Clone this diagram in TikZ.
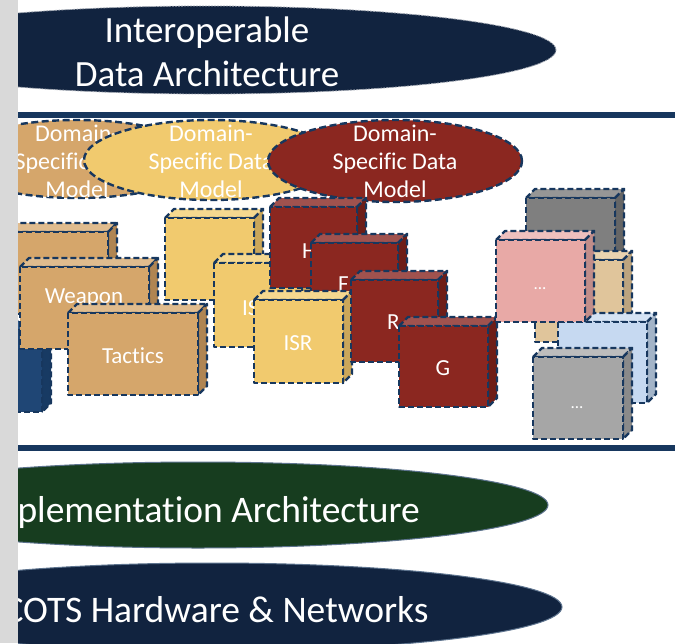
\documentclass[tikz,border=0pt]{standalone}
\usepackage{fontspec}
\setmainfont{Carlito}[Ligatures=NoCommon]
\definecolor{navyell}{HTML}{11233F}
\definecolor{bandcol}{HTML}{17375E}
\definecolor{bordcol}{HTML}{17375E}
\definecolor{greenell}{HTML}{173D1F}
\definecolor{stripgray}{HTML}{D9D9D9}
\definecolor{tanF}{HTML}{D5A66B}\definecolor{tanT}{HTML}{E0BC8E}\definecolor{tanS}{HTML}{B08552}
\definecolor{yelF}{HTML}{F1CA6E}\definecolor{yelT}{HTML}{F5D88F}\definecolor{yelS}{HTML}{CBA75A}
\definecolor{redF}{HTML}{8B2720}\definecolor{redT}{HTML}{A0524E}\definecolor{redS}{HTML}{6E1D17}
\definecolor{bluF}{HTML}{1F4675}\definecolor{bluT}{HTML}{2E5A8C}\definecolor{bluS}{HTML}{173A63}
\definecolor{dgF}{HTML}{7F7F7F}\definecolor{dgT}{HTML}{969696}\definecolor{dgS}{HTML}{666666}
\definecolor{pkF}{HTML}{E8A9A6}\definecolor{pkT}{HTML}{EFC0BE}\definecolor{pkS}{HTML}{C18D8A}
\definecolor{ltF}{HTML}{E0C59B}\definecolor{ltT}{HTML}{E9D3B0}\definecolor{ltS}{HTML}{BCA47F}
\definecolor{lbF}{HTML}{C6D9F1}\definecolor{lbT}{HTML}{D5E3F4}\definecolor{lbS}{HTML}{A3B4C8}
\definecolor{gyF}{HTML}{A6A6A6}\definecolor{gyT}{HTML}{BDBDBD}\definecolor{gyS}{HTML}{8A8A8A}
\newcommand\drawcube[7]{%
  \filldraw[dashbd, fill=#6] (#1,#2) -- (#1+9,#2-9) -- (#3+9,#2-9) -- (#3,#2) -- cycle;
  \filldraw[dashbd, fill=#7] (#3,#2) -- (#3+9,#2-9) -- (#3+9,#4-9) -- (#3,#4) -- cycle;
  \filldraw[dashbd, fill=#5] (#1,#2) rectangle (#3,#4);
}
\begin{document}
\begin{tikzpicture}[x=1pt,y=-1pt,
  dashbd/.style={draw=bordcol, line width=2.4pt, dash pattern=on 6pt off 3pt, line join=round},
  ellbd/.style={draw=bordcol, line width=2.4pt, dash pattern=on 7pt off 3.5pt},
  bigtxt/.style={text=white, font=\fontsize{37}{44}\selectfont, inner sep=0pt, anchor=base},
  lowtxt/.style={text=white, font=\fontsize{37.5}{44}\selectfont, inner sep=0pt, anchor=base},
  elltxt/.style={text=white, font=\fontsize{24}{28}\selectfont, inner sep=0pt, anchor=base},
  lbl/.style={text=white, font=\fontsize{23}{28}\selectfont, inner sep=0pt, anchor=base},
  dots/.style={text=white, font=\fontsize{17}{20}\selectfont, inner sep=0pt, anchor=base}]
\useasboundingbox (0,0) rectangle (675,643);
\fill[white] (0,0) rectangle (675,643);
\fill[stripgray] (0,0) rectangle (18,643);
\begin{scope}
\clip (18,0) rectangle (675,643);
% top ellipse
\filldraw[fill=navyell, draw=white!60!navyell, line width=0.8pt, dash pattern=on 2pt off 1pt] (207,50) ellipse [x radius=349pt, y radius=44pt];
\node[bigtxt] (t1) at (207,42) {Interoperable};
\node[bigtxt] (t2) at (207,86) {Data Architecture};
% bands
\fill[bandcol] (18,112) rectangle (675,118);
\fill[bandcol] (18,445) rectangle (675,451);
% domain ellipses
\filldraw[ellbd, fill=tanF] (77,159) ellipse [x radius=127pt, y radius=39pt];
\node[elltxt] (a1) at (77,141) {Domain-};
\node[elltxt] (a2) at (77,169) {Specific Data};
\node[elltxt] (a3) at (77,197) {Model};
\filldraw[ellbd, fill=yelF] (211,160) ellipse [x radius=127pt, y radius=40pt];
\node[elltxt] (b1) at (211,141) {Domain-};
\node[elltxt] (b2) at (211,169) {Specific Data};
\node[elltxt] (b3) at (211,197) {Model};
\filldraw[ellbd, fill=redF] (395,161) ellipse [x radius=127pt, y radius=41pt];
\node[elltxt] (c1) at (395,141) {Domain-};
\node[elltxt] (c2) at (395,169) {Specific Data};
\node[elltxt] (c3) at (395,197) {Model};
% tan group
\drawcube{-21}{232}{108}{314}{tanF}{tanT}{tanS}
\drawcube{-47}{330}{42}{412}{bluF}{bluT}{bluS}
\drawcube{20}{267}{149}{349}{tanF}{tanT}{tanS}
\node[lbl] (weapon) at (84,303) {Weapon};
\drawcube{68}{313}{198}{395}{tanF}{tanT}{tanS}
\node[lbl] (tactics) at (133,363) {Tactics};
% yellow group
\drawcube{165}{218}{254}{300}{yelF}{yelT}{yelS}
\drawcube{214}{263}{302}{347}{yelF}{yelT}{yelS}
\node[lbl, anchor=base west] (is) at (242,315) {IS};
% red group
\drawcube{270}{207}{357}{288}{redF}{redT}{redS}
\node[lbl, anchor=base west] (h) at (302,258) {H};
\drawcube{311}{243}{398}{325}{redF}{redT}{redS}
\node[lbl, anchor=base west] (f) at (338,291) {F};
\drawcube{254}{300}{343}{383}{yelF}{yelT}{yelS}
\node[lbl] (isr) at (298,350) {ISR};
\drawcube{351}{280}{438}{362}{redF}{redT}{redS}
\node[lbl, anchor=base west] (r) at (387,329) {R};
\drawcube{399}{326}{488}{407}{redF}{redT}{redS}
\node[lbl] (g) at (443,375) {G};
% right group
\drawcube{526}{198}{615}{280}{dgF}{dgT}{dgS}
\drawcube{535}{260}{623}{342}{ltF}{ltT}{ltS}
\drawcube{558}{322}{647}{403}{lbF}{lbT}{lbS}
\drawcube{496}{240}{585}{322}{pkF}{pkT}{pkS}
\node[dots] (pdots) at (540,289) {...};
\drawcube{533}{357}{623}{439}{gyF}{gyT}{gyS}
\node[dots] (gdots) at (577,408) {...};
% lower ellipses
\filldraw[fill=greenell, draw=bordcol!70!white, line width=1pt] (198,505) ellipse [x radius=350pt, y radius=43pt];
\node[lowtxt] (impl) at (199,522) {Implementation Architecture};
\filldraw[fill=navyell, draw=bordcol!70!white, line width=1pt] (212,607) ellipse [x radius=350pt, y radius=44pt];
\node[lowtxt] (cots) at (216,622) {COTS Hardware \& Networks};
\end{scope}
\end{tikzpicture}
\end{document}
